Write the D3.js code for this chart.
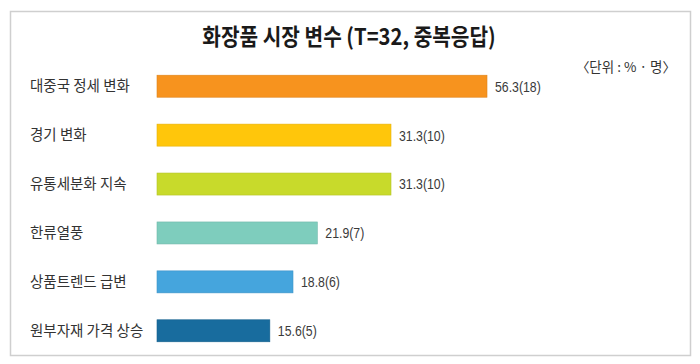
<!DOCTYPE html>
<html><head><meta charset="utf-8">
<script src="https://cdn.jsdelivr.net/npm/d3@7"></script>
<style>body{margin:0;background:#fff}svg{display:block}</style>
</head><body>
<svg id="c" width="700" height="364"></svg>
<script>
const title = "화장품 시장 변수 (T=32, 중복응답)";
const unitNote = "〈단위 : % · 명〉";
const categories = ["대중국 정세 변화","경기 변화","유통세분화 지속","한류열풍","상품트렌드 급변","원부자재 가격 상승"];
const percents = [56.3, 31.3, 31.3, 21.9, 18.8, 15.6];
const counts = [18, 10, 10, 7, 6, 5];
const colors = ["#F7931E","#FFC60B","#C8DA2B","#7ECDBD","#45A5DD","#186C9E"];

const svg = d3.select("#c");
svg.append("rect").attr("x",10.5).attr("y",11.5).attr("width",680).attr("height",344)
  .attr("fill","#fff").attr("stroke","#cfcfcf").attr("stroke-width",1.5);

// condensed-looking title (horizontal squeeze)
svg.append("g").attr("transform","translate(349,45) scale(0.88,1)")
  .append("text").attr("x",0).attr("y",0).attr("text-anchor","middle")
  .attr("font-family","'Noto Sans CJK KR'").attr("font-weight","bold")
  .attr("font-size",23).attr("fill","#1a1a1a").text(title);

svg.append("text").attr("x",676).attr("y",72).attr("text-anchor","end")
  .attr("font-family","'Noto Sans CJK KR'").attr("font-size",13.5)
  .attr("fill","#333").text(unitNote);

const y = d3.scaleBand().domain(categories).range([62, 355]).paddingInner(0.55).paddingOuter(0.27);
// broken-length scale as in the original: the longest bar is visually shortened
const xs = d3.scaleLinear().domain([0, 18.8, 31.3, 56.3]).range([157, 293, 391, 487]);

const g = svg.append("g");
categories.forEach((c,i)=>{
  const yc = y(c);
  g.append("rect").attr("x",xs(0)).attr("y",yc).attr("width",xs(percents[i])-xs(0)).attr("height",y.bandwidth())
    .attr("fill",colors[i]).attr("stroke",d3.color(colors[i]).darker(0.3)).attr("stroke-width",0.6);
  g.append("text").attr("x",30).attr("y",yc+y.bandwidth()/2).attr("dy","0.35em")
    .attr("font-family","'Noto Sans CJK KR'").attr("font-size",14.5).attr("fill","#333").text(c);
  g.append("g").attr("transform",`translate(${xs(percents[i])+8},${yc+y.bandwidth()/2}) scale(0.82,1)`)
    .append("text").attr("dy","0.36em")
    .attr("font-family","'Liberation Sans',sans-serif").attr("font-size",15)
    .attr("fill","#3a3a3a")
    .text(d3.format(".1f")(percents[i]) + "(" + counts[i] + ")");
});
</script>
</body></html>
